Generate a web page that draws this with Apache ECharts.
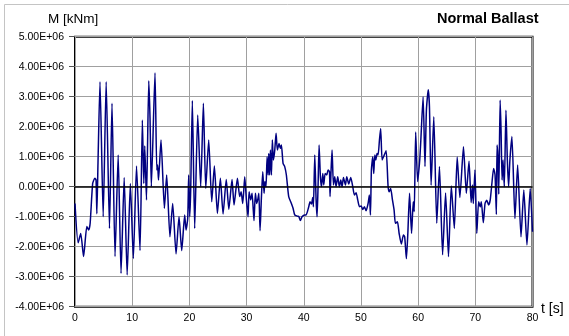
<!DOCTYPE html>
<html><head><meta charset="utf-8">
<script src="https://cdn.jsdelivr.net/npm/echarts@6/dist/echarts.min.js"></script>
<style>html,body{margin:0;padding:0;background:#fff}#c{width:569px;height:336px}</style>
</head><body><div id="c"></div>
<script>
// time [s]
const timeS = [
0.0,0.55,1.0,1.5,2.07,2.4,2.65,3.09,3.47,3.68,3.82,4.02,4.37,4.93,5.45,6.03,6.47,7.0,7.55,8.05,
8.6,9.12,9.68,10.2,10.76,11.37,11.78,12.03,12.2,12.5,12.9,13.12,13.35,13.99,14.3,14.45,14.6,15.04,15.63,16.03,
16.6,17.08,17.67,18.19,18.66,19.18,19.42,19.71,19.88,20.06,20.23,20.52,20.93,21.46,21.98,22.45,22.86,23.38,23.91,24.37,
24.9,25.42,25.89,26.45,26.9,27.46,27.81,28.4,28.8,29.05,29.33,29.68,29.97,30.26,30.44,30.73,30.96,31.3,31.54,31.78,
32.0,32.15,32.36,32.59,32.83,33.06,33.2,33.4,33.59,33.77,33.88,34.03,34.17,34.35,34.51,34.69,34.93,35.16,35.39,35.68,
35.9,36.09,36.38,36.67,36.96,37.37,37.84,38.13,38.42,38.89,39.15,39.41,39.7,40.18,40.41,40.87,41.1,41.34,41.57,41.69,
41.93,42.16,42.33,42.5,42.68,42.91,43.1,43.33,43.5,43.74,44.02,44.26,44.5,44.6,44.78,44.95,45.19,45.42,45.65,45.94,
46.23,46.47,46.7,46.94,47.29,47.52,47.87,48.22,48.57,48.86,49.15,49.44,49.74,50.03,50.32,50.61,50.9,51.25,51.48,51.66,
51.83,52.07,52.24,52.42,52.6,52.82,53.0,53.24,53.45,53.7,53.95,54.4,54.75,54.95,55.2,55.51,55.8,56.03,56.38,56.68,
57.06,57.43,57.65,57.95,58.2,58.5,58.85,59.15,59.32,59.57,59.92,60.28,60.46,60.87,61.2,61.45,61.77,61.98,62.27,62.74,
63.26,63.73,64.28,64.8,65.31,65.8,66.33,66.83,67.3,67.93,68.43,68.9,69.27,69.5,69.65,69.94,70.26,70.58,70.85,71.05,
71.4,71.7,72.0,72.33,72.6,72.9,73.2,73.45,73.68,73.8,73.95,74.1,74.34,74.5,74.68,74.85,75.07,75.36,75.6,75.82,
76.05,76.4,76.93,77.4,77.99,78.48,79.03,79.6,80.0
];
// bending moment M [1E+06 kNm]
const momentMega = [
-0.56,-1.87,-1.56,-2.33,-1.33,-1.44,-1.22,0.11,0.28,0.22,-0.9,0.78,3.5,-1.0,3.5,-1.39,2.78,-2.33,1.06,-2.89,
0.31,-2.94,0.11,-2.39,0.69,-2.13,2.22,0.11,1.36,-0.44,3.53,2.28,0.0,3.8,0.56,0.72,0.22,1.56,-0.72,0.39,
-1.67,-0.56,-2.24,-1.0,-2.13,-0.94,-1.44,-1.06,0.39,-1.0,-0.11,2.87,-1.39,2.39,0.0,2.78,-0.06,1.56,-0.5,0.69,
-0.89,0.28,-0.91,0.24,-0.75,0.24,-0.61,0.28,-0.33,-0.17,-0.56,0.33,-0.44,-1.0,-0.17,-0.44,-0.22,-1.13,-0.22,-0.56,
-0.39,-0.22,-1.47,-0.39,0.5,-0.22,0.17,0.0,1.0,0.39,1.11,0.39,1.22,0.39,1.56,0.89,1.22,1.78,1.22,1.44,
1.28,1.39,0.78,0.67,0.39,-0.33,-0.56,-0.72,-0.94,-0.98,-1.0,-1.13,-1.0,-0.94,-0.94,-0.67,-0.5,-0.58,-0.36,-0.67,
1.06,-0.44,-1.0,0.0,1.39,0.33,0.0,0.44,0.06,0.44,0.39,0.56,0.5,-0.33,0.56,1.22,0.06,0.33,0.0,0.33,
0.0,0.22,0.0,0.31,0.06,0.33,0.09,0.31,0.0,-0.28,-0.2,-0.44,-0.67,-0.64,-0.76,-0.67,-0.8,-0.56,-0.28,-0.94,
0.56,1.0,0.44,1.06,0.89,1.11,1.06,1.56,1.94,0.89,1.0,1.2,0.0,-0.17,-0.06,-0.44,-0.78,-1.22,-1.17,-1.56,
-1.91,-1.61,-1.67,-2.4,-1.56,-0.22,-1.56,-0.5,-0.83,1.82,0.17,0.89,1.5,3.0,0.67,2.56,3.23,2.67,0.05,2.33,
-1.22,0.67,-2.27,-0.21,-2.33,0.02,-1.39,0.99,-0.36,1.33,-0.22,0.85,-0.53,0.06,-0.56,0.56,-1.56,-0.5,-0.67,-0.5,
-1.2,-0.56,-0.45,-0.61,-0.45,0.11,0.61,0.4,-0.93,1.39,1.0,-0.25,2.89,1.89,0.22,0.89,0.0,2.55,0.89,0.0,
0.89,1.67,-1.06,0.72,-1.67,-0.11,-1.94,-0.06,-1.5
];
const yMin = -4e6, yMax = 5e6, yStep = 1e6;
const xMin = 0, xMax = 80, xStep = 10;
const titleText = 'Normal Ballast';
const yAxisTitle = 'M [kNm]';
const xAxisTitle = 't [s]';

function sci(v){
  if (v === 0) return '0.00E+00';
  const s = v < 0 ? '-' : '';
  const a = Math.abs(v);
  const e = Math.floor(Math.log10(a) + 1e-9);
  const m = a / Math.pow(10, e);
  return s + m.toFixed(2) + 'E' + (e < 0 ? '-' : '+') + String(Math.abs(e)).padStart(2, '0');
}
const seriesData = timeS.map((t, i) => [t, momentMega[i] * 1e6]);
const FONT = '"Liberation Sans", Arial, sans-serif';
const chart = echarts.init(document.getElementById('c'), null, {renderer: 'canvas'});
chart.setOption({
  animation: false,
  backgroundColor: '#fff',
  grid: {left: 75, right: 36.5, top: 36.7, bottom: 29.3, show: true, borderColor: '#000', borderWidth: 2, backgroundColor: 'transparent'},
  xAxis: {
    type: 'value', min: xMin, max: xMax, interval: xStep,
    axisLine: {show: false}, axisTick: {show: false},
    axisLabel: {color: '#000', fontSize: 10.5, fontFamily: FONT, margin: 6},
    splitLine: {show: true, lineStyle: {color: '#a0a0a0', width: 1}}
  },
  yAxis: {
    type: 'value', min: yMin, max: yMax, interval: yStep,
    axisLine: {show: false},
    axisTick: {show: true, length: 6, lineStyle: {color: '#555'}},
    axisLabel: {color: '#000', fontSize: 10.5, fontFamily: FONT, margin: 11, formatter: sci},
    splitLine: {show: true, lineStyle: {color: '#a0a0a0', width: 1}}
  },
  series: [{
    type: 'line', data: seriesData, showSymbol: false, smooth: 0.2,
    lineStyle: {color: '#000080', width: 1.5},
    markLine: {silent: true, symbol: ['none', 'none'], label: {show: false},
      lineStyle: {color: '#000', width: 1.5, type: 'solid'}, data: [{yAxis: 0}]}
  }],
  graphic: [
    {type: 'rect', shape: {x: 4.5, y: 4.5, width: 800, height: 600}, style: {fill: 'none', stroke: '#c4c4c4', lineWidth: 1}, silent: true, z: -1},
    {type: 'text', left: 48, top: 12, style: {text: yAxisTitle, font: '13.5px ' + FONT, fill: '#000'}},
    {type: 'text', left: 437, top: 11, style: {text: titleText, font: 'bold 14.5px ' + FONT, fill: '#000'}},
    {type: 'text', left: 541, top: 302, style: {text: xAxisTitle, font: '14px ' + FONT, fill: '#000'}}
  ]
});
</script></body></html>
